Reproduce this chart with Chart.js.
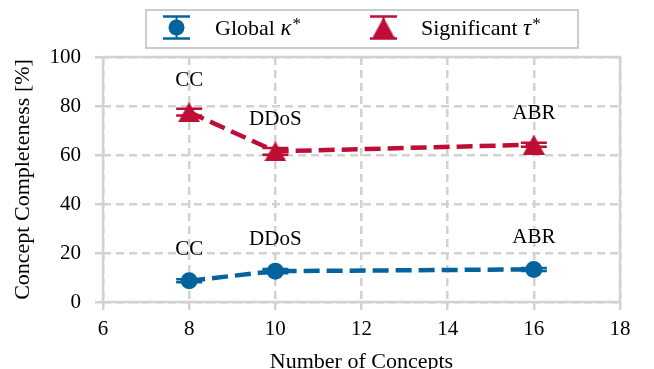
<!DOCTYPE html>
<html>
<head>
<meta charset="utf-8">
<script src="https://cdn.jsdelivr.net/npm/chart.js@4/dist/chart.umd.min.js"></script>
<style>
  html, body { margin: 0; padding: 0; background: #ffffff; }
  #wrap { width: 654px; height: 369px; }
</style>
</head>
<body>
<div id="wrap"><canvas id="c" width="654" height="369"></canvas></div>
<script>
// Number of concepts per dataset (x) and completeness values in percent (y)
const concepts = [8, 10, 16];
const datasetNames = ['CC', 'DDoS', 'ABR'];
const globalKappa = [8.7, 12.6, 13.3];
const globalKappaErr = [0.6, 0.9, 0.6];
const significantTau = [77.5, 61.5, 64.2];
const significantTauErr = [1.4, 1.4, 0.8];
const xTicks = [6, 8, 10, 12, 14, 16, 18];
const yTicks = [0, 20, 40, 60, 80, 100];

const BLUE = '#03649d';
const RED = '#bd0f35';
const GRID = '#d2d2d2';
const SERIF = '"Liberation Serif", "Times New Roman", Times, serif';

Chart.defaults.font.family = SERIF;
Chart.defaults.color = '#000000';

// Upward triangle marker, centred on its bounding box
function triangleMarker(w, h, color) {
  const cv = document.createElement('canvas');
  cv.width = w; cv.height = h;
  const g = cv.getContext('2d');
  g.fillStyle = color;
  g.beginPath();
  g.moveTo(w / 2, 0);
  g.lineTo(w, h);
  g.lineTo(0, h);
  g.closePath();
  g.fill();
  return cv;
}
const redTriangle = triangleMarker(22, 20, RED);

const toPoints = (ys) => concepts.map((x, i) => ({ x: x, y: ys[i] }));

// Solid frame around the plot, vertical error bars with caps
const errorBarPlugin = {
  id: 'errorBars',
  beforeDatasetsDraw(chart) {
    const { ctx, chartArea: a, scales } = chart;
    ctx.save();
    ctx.setLineDash([]);
    ctx.strokeStyle = GRID;
    ctx.lineWidth = 2.5;
    ctx.strokeRect(a.left, a.top, a.right - a.left, a.bottom - a.top);

    const errs = [globalKappaErr, significantTauErr];
    chart.data.datasets.forEach((ds, d) => {
      ctx.strokeStyle = ds.borderColor;
      ds.data.forEach((p, i) => {
        const px = scales.x.getPixelForValue(p.x);
        const y1 = scales.y.getPixelForValue(p.y - errs[d][i]);
        const y2 = scales.y.getPixelForValue(p.y + errs[d][i]);
        ctx.lineWidth = 2;
        ctx.beginPath();
        ctx.moveTo(px, y1); ctx.lineTo(px, y2);
        ctx.stroke();
        ctx.lineWidth = 2.5;
        ctx.beginPath();
        ctx.moveTo(px - 13, y1); ctx.lineTo(px + 13, y1);
        ctx.moveTo(px - 13, y2); ctx.lineTo(px + 13, y2);
        ctx.stroke();
      });
    });
    ctx.restore();
  }
};

// Dataset name written above each marker
const nameLabelPlugin = {
  id: 'nameLabels',
  afterDatasetsDraw(chart) {
    const { ctx, scales } = chart;
    ctx.save();
    ctx.font = '21px ' + SERIF;
    ctx.fillStyle = '#000000';
    ctx.textAlign = 'center';
    ctx.textBaseline = 'alphabetic';
    chart.data.datasets.forEach((ds) => {
      ds.data.forEach((p, i) => {
        const px = scales.x.getPixelForValue(p.x);
        const py = scales.y.getPixelForValue(p.y);
        ctx.fillText(datasetNames[i], px, py - 26);
      });
    });
    ctx.restore();
  }
};

// Boxed legend with error-bar glyphs
const legendPlugin = {
  id: 'errLegend',
  afterDraw(chart) {
    const { ctx } = chart;
    ctx.save();
    ctx.setLineDash([]);
    ctx.fillStyle = '#ffffff';
    ctx.fillRect(146, 10, 432, 38);
    ctx.strokeStyle = '#cccccc';
    ctx.lineWidth = 2;
    ctx.strokeRect(146, 10, 432, 38);

    const cy = 27.5;
    function glyph(cx, color) {
      ctx.strokeStyle = color;
      ctx.lineWidth = 2;
      ctx.beginPath();
      ctx.moveTo(cx, 16.5); ctx.lineTo(cx, 38.5);
      ctx.stroke();
      ctx.lineWidth = 2.5;
      ctx.beginPath();
      ctx.moveTo(cx - 13.5, 16.5); ctx.lineTo(cx + 13.5, 16.5);
      ctx.moveTo(cx - 13.5, 38.5); ctx.lineTo(cx + 13.5, 38.5);
      ctx.stroke();
    }
    glyph(176.5, BLUE);
    ctx.fillStyle = BLUE;
    ctx.beginPath();
    ctx.arc(176.5, cy, 8, 0, Math.PI * 2);
    ctx.fill();

    glyph(383.5, RED);
    ctx.drawImage(redTriangle, 383.5 - redTriangle.width / 2, cy - redTriangle.height / 2);

    function entry(x, word, sym) {
      ctx.fillStyle = '#000000';
      ctx.textAlign = 'left';
      ctx.textBaseline = 'alphabetic';
      ctx.font = '22px ' + SERIF;
      ctx.fillText(word + ' ', x, 35);
      let w = ctx.measureText(word + ' ').width;
      ctx.font = 'italic 23px ' + SERIF;
      ctx.fillText(sym, x + w, 35);
      w += ctx.measureText(sym).width + 1;
      ctx.font = '17px ' + SERIF;
      ctx.fillText('*', x + w, 29);
    }
    entry(215, 'Global', 'κ');
    entry(421, 'Significant', 'τ');
    ctx.restore();
  }
};

const chart = new Chart(document.getElementById('c'), {
  type: 'line',
  data: {
    datasets: [
      {
        label: 'Global κ*',
        data: toPoints(globalKappa),
        borderColor: BLUE,
        backgroundColor: BLUE,
        borderWidth: 4.5,
        borderDash: [16, 7],
        pointStyle: 'circle',
        pointRadius: 8.5,
        pointHoverRadius: 8.5,
        pointBorderWidth: 0,
        pointBackgroundColor: BLUE,
        tension: 0,
        fill: false
      },
      {
        label: 'Significant τ*',
        data: toPoints(significantTau),
        borderColor: RED,
        backgroundColor: RED,
        borderWidth: 4.5,
        borderDash: [16, 7],
        pointStyle: redTriangle,
        pointRadius: 10,
        pointHoverRadius: 10,
        pointBorderWidth: 0,
        tension: 0,
        fill: false
      }
    ]
  },
  options: {
    responsive: false,
    animation: false,
    devicePixelRatio: 1,
    layout: { padding: { top: 57, right: 34, bottom: 0, left: 0 } },
    plugins: {
      legend: { display: false },
      tooltip: { enabled: false }
    },
    scales: {
      x: {
        type: 'linear',
        min: 6,
        max: 18,
        afterBuildTicks(scale) { scale.ticks = xTicks.map(v => ({ value: v })); },
        afterFit(scale) { scale.height = 67; },
        ticks: { font: { size: 21 }, padding: 7, color: '#000000', maxRotation: 0 },
        grid: {
          color: GRID, lineWidth: 2.5, tickLength: 8, tickColor: GRID, tickWidth: 2.5,
          tickBorderDash: []
        },
        border: { display: false, dash: [8, 5] },
        title: {
          display: true,
          text: 'Number of Concepts',
          font: { size: 22 },
          color: '#000000',
          padding: { top: 0, bottom: -6 }
        }
      },
      y: {
        type: 'linear',
        min: 0,
        max: 100,
        afterBuildTicks(scale) { scale.ticks = yTicks.map(v => ({ value: v })); },
        afterFit(scale) { scale.width = 103; },
        ticks: { font: { size: 21 }, padding: 14, color: '#000000' },
        grid: {
          color: GRID, lineWidth: 2.5, tickLength: 8, tickColor: GRID, tickWidth: 2.5,
          tickBorderDash: []
        },
        border: { display: false, dash: [8, 5] },
        title: {
          display: true,
          text: 'Concept Completeness [%]',
          font: { size: 22 },
          color: '#000000',
          padding: { top: 10, bottom: 0 }
        }
      }
    }
  },
  plugins: [errorBarPlugin, nameLabelPlugin, legendPlugin]
});
</script>
</body>
</html>
